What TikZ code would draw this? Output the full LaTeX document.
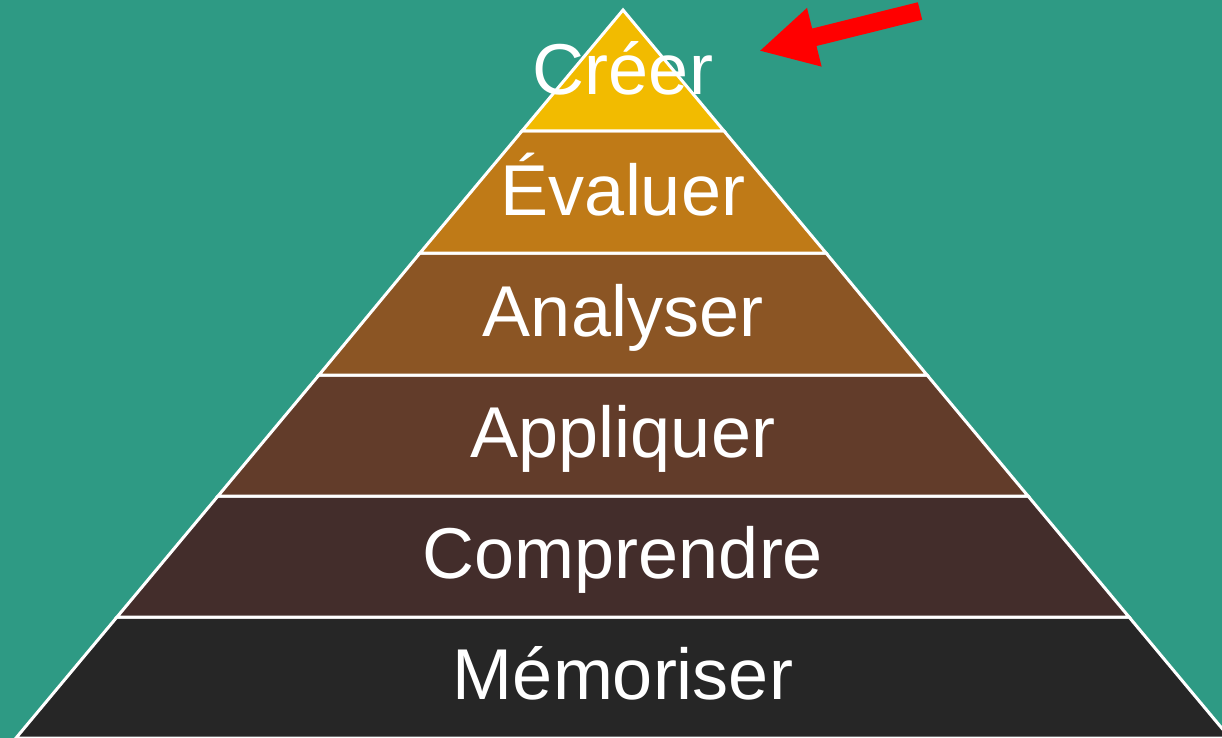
\documentclass[tikz,border=0pt]{standalone}
\usepackage{fontspec}
\setmainfont{Liberation Sans}
\usetikzlibrary{arrows.meta}

\definecolor{bgteal}{RGB}{46,154,132}
\definecolor{lvlcreer}{RGB}{242,187,0}
\definecolor{lvlevaluer}{RGB}{191,122,23}
\definecolor{lvlanalyser}{RGB}{139,85,36}
\definecolor{lvlappliquer}{RGB}{98,60,42}
\definecolor{lvlcomprendre}{RGB}{67,45,43}
\definecolor{lvlmemoriser}{RGB}{38,38,38}
\definecolor{arrowred}{RGB}{255,0,0}

\tikzset{
  layer/.style={draw=white,line width=3pt,line join=miter},
  levellabel/.style={text=white,font=\fontsize{72}{72}\selectfont,anchor=base,inner sep=0pt}
}

\begin{document}
\begin{tikzpicture}[x=1pt,y=1pt,yscale=-1]
\useasboundingbox (0,0) rectangle (1222,738);
\clip (0,0) rectangle (1222,738);
%Background
\fill[bgteal] (0,0) rectangle (1222,738);

%Layers (bottom to top)
\filldraw[layer,fill=lvlmemoriser]  (117,617) -- (1129,617) -- (1230,738) -- (16,738) -- cycle;
\filldraw[layer,fill=lvlcomprendre] (218,496) -- (1028,496) -- (1129,617) -- (117,617) -- cycle;
\filldraw[layer,fill=lvlappliquer]  (319,375) -- (927,375) -- (1028,496) -- (218,496) -- cycle;
\filldraw[layer,fill=lvlanalyser]   (420,253) -- (826,253) -- (927,375) -- (319,375) -- cycle;
\filldraw[layer,fill=lvlevaluer]    (522,131) -- (724,131) -- (826,253) -- (420,253) -- cycle;
\filldraw[layer,fill=lvlcreer]      (623,10) -- (724,131) -- (522,131) -- cycle;

%Labels
\node[levellabel] (creer)      at (623,95)  {Créer};
\node[levellabel] (evaluer)    at (623,215) {Évaluer};
\node[levellabel] (analyser)   at (623,336) {Analyser};
\node[levellabel] (appliquer)  at (623,457) {Appliquer};
\node[levellabel] (comprendre) at (623,578) {Comprendre};
\node[levellabel] (memoriser)  at (623,699) {Mémoriser};

%Red arrow
\coordinate (arrowtail) at (920,11);
\coordinate (arrowtip) at (759,51);
\draw[arrowred,line width=18pt,-{Triangle[length=57pt,width=56pt]}] (arrowtail) -- (arrowtip);

\end{tikzpicture}
\end{document}
